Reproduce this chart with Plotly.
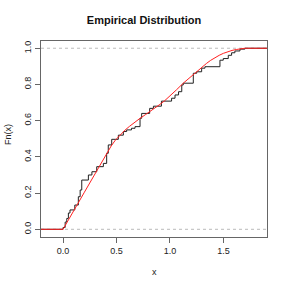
import plotly.graph_objects as go

# Empirical CDF: jump locations and cumulative fraction after each jump
jump_x = [0.0, 0.02, 0.035, 0.05, 0.065, 0.11, 0.143, 0.16, 0.175, 0.237, 0.27, 0.315,
          0.377, 0.408, 0.423, 0.455, 0.517, 0.564, 0.595, 0.64, 0.673, 0.72, 0.735,
          0.81, 0.845, 0.92, 1.015, 1.047, 1.08, 1.11, 1.124, 1.218, 1.25, 1.296,
          1.327, 1.467, 1.498, 1.545, 1.576, 1.607, 1.654, 1.70]
jump_F = [0.01, 0.04, 0.06, 0.09, 0.107, 0.134, 0.18, 0.217, 0.272, 0.30, 0.318, 0.346,
          0.364, 0.42, 0.466, 0.497, 0.52, 0.54, 0.549, 0.558, 0.567, 0.613, 0.64,
          0.668, 0.68, 0.708, 0.724, 0.742, 0.76, 0.797, 0.807, 0.862, 0.87, 0.89,
          0.898, 0.934, 0.943, 0.961, 0.975, 0.985, 0.995, 1.0]

# Theoretical CDF (red)
cdf_x = [-0.21, 0.0, 0.2, 0.4, 0.45, 0.49, 0.53, 0.58, 0.62, 0.67, 0.72, 0.77, 0.82,
         0.87, 0.906, 0.95, 1.0, 1.06, 1.124, 1.18, 1.234, 1.29, 1.343, 1.38, 1.42,
         1.46, 1.5, 1.54, 1.58, 1.62, 1.654, 1.68, 1.70, 1.91]
cdf_F = [0.0, 0.0, 0.205, 0.41, 0.46, 0.493, 0.52, 0.548, 0.568, 0.592, 0.613, 0.633,
         0.653, 0.673, 0.69, 0.71, 0.735, 0.77, 0.807, 0.836, 0.862, 0.89, 0.917, 0.933,
         0.948, 0.961, 0.972, 0.981, 0.988, 0.993, 0.996, 0.999, 1.0, 1.0]

x_range = [-0.206, 1.907]
y_range = [-0.0425, 1.04]
x_ticks = [0.0, 0.5, 1.0, 1.5]
x_ticklabels = ["0.0", "0.5", "1.0", "1.5"]
y_ticks = [0.0, 0.2, 0.4, 0.6, 0.8, 1.0]
y_ticklabels = ["0.0", "0.2", "0.4", "0.6", "0.8", "1.0"]

step_x = [x_range[0]] + jump_x + [x_range[1]]
step_y = [0.0] + jump_F + [1.0]

fig = go.Figure()
fig.add_trace(go.Scatter(x=step_x, y=step_y, mode="lines", line_shape="hv",
                         line=dict(color="#222222", width=1), showlegend=False,
                         hoverinfo="skip"))
fig.add_trace(go.Scatter(x=cdf_x, y=cdf_F, mode="lines", line_shape="linear",
                         line=dict(color="#ff2020", width=1), showlegend=False,
                         hoverinfo="skip"))

for h in [0.0, 1.0]:
    fig.add_shape(type="line", xref="paper", x0=0, x1=1, yref="y", y0=h, y1=h,
                  line=dict(color="#bbbbbb", width=1, dash="3px,3px"), layer="below")

font = dict(family="Liberation Sans", size=9, color="#222")
axis_common = dict(showgrid=False, zeroline=False, showline=True, mirror=True,
                   linecolor="#666666", linewidth=1, ticks="outside", ticklen=5,
                   tickcolor="#666666", tickfont=font, automargin=False)

W, H = 288, 288
L, R, T, B = 41, 21, 41, 51
fig.update_layout(
    width=W, height=H, autosize=False,
    margin=dict(l=L, r=R, t=T, b=B),
    paper_bgcolor="white", plot_bgcolor="white",
    title=dict(text="<b>Empirical Distribution</b>", x=0.5, xanchor="center",
               y=1 - 20 / H, yanchor="middle",
               font=dict(family="Liberation Sans", size=11, color="#111")),
    xaxis=dict(range=x_range, tickvals=x_ticks, ticktext=x_ticklabels, **axis_common),
    yaxis=dict(range=y_range, tickvals=y_ticks, ticktext=y_ticklabels, tickangle=-90,
               **axis_common),
)

pw, ph = W - L - R, H - T - B
fig.add_annotation(text="x", xref="paper", yref="paper", x=0.5,
                   y=-(272 - (H - B)) / ph, showarrow=False, font=font,
                   xanchor="center", yanchor="middle")
fig.add_annotation(text="Fn(x)", xref="paper", yref="paper", x=-(L - 8) / pw,
                   y=((H - B) - 135) / ph, showarrow=False, font=font, textangle=-90,
                   xanchor="center", yanchor="middle")

fig.write_html("out.html", config={"displayModeBar": False},
               post_script="document.body.style.margin='0';")
